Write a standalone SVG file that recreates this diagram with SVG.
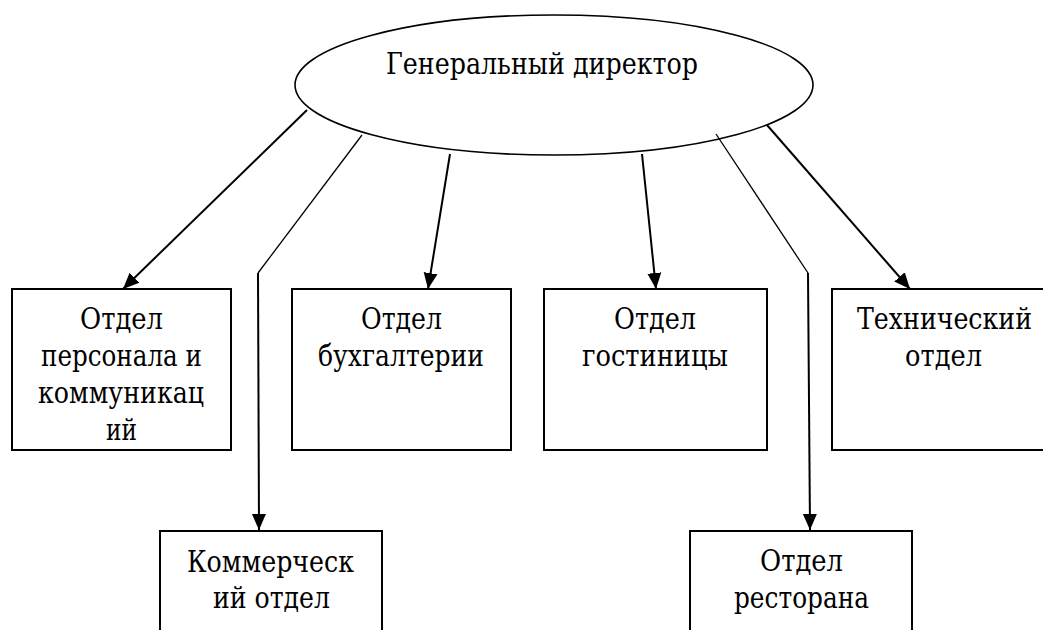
<svg xmlns="http://www.w3.org/2000/svg" width="1043" height="630" viewBox="0 0 1043 630">
<style>
.box{fill:#fff;stroke:#000;stroke-width:2}
.t{font-family:'DejaVu Serif','Liberation Serif',serif;font-size:29px;fill:#000;text-anchor:middle}
.c{fill:none;stroke:#000;stroke-width:2}
.thin{fill:none;stroke:#000;stroke-width:1.3}
</style>
<defs>
<marker id="ah" markerUnits="userSpaceOnUse" markerWidth="16" markerHeight="16" refX="16" refY="7" orient="auto" viewBox="0 0 16 14">
<path d="M0,0 L16,7 L0,14 Z" fill="#000"/>
</marker>
</defs>
<rect width="1043" height="630" fill="#fff"/>
<g id="connectors">
<line class="c" x1="307" y1="110" x2="123" y2="289" marker-end="url(#ah)"/>
<polyline class="thin" points="362,135 258,273"/>
<line class="c" x1="258" y1="273" x2="259" y2="530" marker-end="url(#ah)"/>
<line class="c" x1="450" y1="154" x2="428" y2="289" marker-end="url(#ah)"/>
<line class="c" x1="642" y1="154" x2="656" y2="289" marker-end="url(#ah)"/>
<polyline class="thin" points="716,134 808,273"/>
<line class="c" x1="808" y1="273" x2="810" y2="530" marker-end="url(#ah)"/>
<line class="c" x1="767" y1="125" x2="910" y2="289" marker-end="url(#ah)"/>
</g>
<g id="director">
<ellipse cx="554" cy="85" rx="259" ry="70" fill="none" stroke="#000" stroke-width="1.6"/>
<text class="t" x="542" y="74" textLength="312" lengthAdjust="spacingAndGlyphs">Генеральный директор</text>
</g>
<g id="hr">
<rect class="box" x="12" y="289" width="219" height="161"/>
<text class="t" x="121.5" y="329" textLength="83" lengthAdjust="spacingAndGlyphs">Отдел</text>
<text class="t" x="121.5" y="366" textLength="161" lengthAdjust="spacingAndGlyphs">персонала и</text>
<text class="t" x="121" y="403" textLength="166" lengthAdjust="spacingAndGlyphs">коммуникац</text>
<text class="t" x="121.5" y="440" textLength="31" lengthAdjust="spacingAndGlyphs">ий</text>
</g>
<g id="accounting">
<rect class="box" x="292" y="289" width="219" height="161"/>
<text class="t" x="401.5" y="329" textLength="81" lengthAdjust="spacingAndGlyphs">Отдел</text>
<text class="t" x="401" y="366" textLength="166" lengthAdjust="spacingAndGlyphs">бухгалтерии</text>
</g>
<g id="hotel">
<rect class="box" x="544" y="289" width="223" height="161"/>
<text class="t" x="655" y="329" textLength="82" lengthAdjust="spacingAndGlyphs">Отдел</text>
<text class="t" x="655" y="366" textLength="146" lengthAdjust="spacingAndGlyphs">гостиницы</text>
</g>
<g id="technical">
<rect class="box" x="832" y="289" width="219" height="161"/>
<text class="t" x="944.5" y="329" textLength="175" lengthAdjust="spacingAndGlyphs">Технический</text>
<text class="t" x="943.5" y="366" textLength="77" lengthAdjust="spacingAndGlyphs">отдел</text>
</g>
<g id="commercial">
<rect class="box" x="160" y="531" width="222" height="110"/>
<text class="t" x="270.5" y="572" textLength="167" lengthAdjust="spacingAndGlyphs">Коммерческ</text>
<text class="t" x="271.5" y="608" textLength="117" lengthAdjust="spacingAndGlyphs">ий отдел</text>
</g>
<g id="restaurant">
<rect class="box" x="690" y="531" width="222" height="110"/>
<text class="t" x="801.5" y="571" textLength="83" lengthAdjust="spacingAndGlyphs">Отдел</text>
<text class="t" x="801.5" y="608" textLength="135" lengthAdjust="spacingAndGlyphs">ресторана</text>
</g>
</svg>
